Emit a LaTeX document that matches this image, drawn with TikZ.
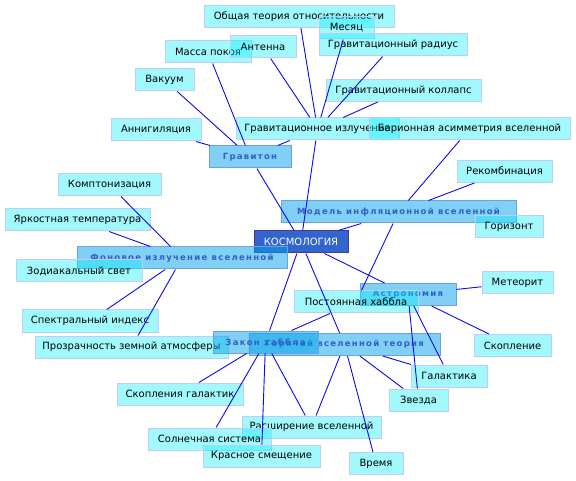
\documentclass[tikz,border=0pt]{standalone}
\usepackage{fontspec}
\setmainfont{DejaVu Sans}
\newfontfamily\hubfont{DejaVu Sans}[LetterSpace=15]
\usepackage{tikz}
\usetikzlibrary{positioning}
\definecolor{leafcyan}{RGB}{0, 238, 250}
\definecolor{leafedge}{RGB}{190, 205, 245}
\definecolor{hubfill}{RGB}{0, 161, 233}
\definecolor{hubedge}{RGB}{110, 160, 225}
\definecolor{hubtext}{RGB}{50, 96, 200}
\definecolor{rootblue}{RGB}{51, 102, 204}
\definecolor{rootedge}{RGB}{80, 50, 160}
\definecolor{linkblue}{RGB}{10, 10, 240}

\begin{document}
\begin{tikzpicture}[x=1pt, y=-1pt,
    every node/.style={font=\fontsize{10}{12}\selectfont, inner sep=0pt, minimum height=22pt},
    leaf/.style={draw=leafedge, line width=1pt, fill=leafcyan, fill opacity=0.37, text opacity=1},
    hub/.style={draw=hubedge, line width=1pt, fill=hubfill, fill opacity=0.5, text opacity=1, text=hubtext, font=\hubfont\bfseries\fontsize{8.5}{10}\selectfont},
    root/.style={draw=rootedge, line width=1pt, fill=rootblue, text=white},
    link/.style={linkblue, line width=0.9pt}]
    \useasboundingbox (0,0) rectangle (576,481);

    % Top cluster
    \node[leaf, minimum width=190pt] (ot) at (299,16.5) {Общая теория относительности};
    \node[leaf, minimum width=55pt] (mes) at (346.5,28) {Месяц};
    \node[leaf, minimum width=86pt] (mas) at (208,52) {Масса покоя};
    \node[leaf, minimum width=66pt] (ant) at (263,47) {Антенна};
    \node[leaf, minimum width=148pt] (grr) at (393,45) {Гравитационный радиус};
    \node[leaf, minimum width=59pt] (vak) at (164.5,80) {Вакуум};
    \node[leaf, minimum width=155pt] (grk) at (403.5,90.5) {Гравитационный коллапс};
    \node[leaf, minimum width=90pt] (ann) at (156,130) {Аннигиляция};
    \node[leaf, minimum width=163pt] (gri) at (317.5,129) {Гравитационное излучение};
    \node[leaf, minimum width=201pt] (bar) at (469.5,129) {Барионная асимметрия вселенной};
    \node[hub, minimum width=82pt] (grv) at (250,157) {Гравитон};

    % Inflation model
    \node[leaf, minimum width=95pt] (rek) at (504.5,171.5) {Рекомбинация};
    \node[hub, minimum width=235pt] (mod) at (398.5,212) {Модель инфляционной вселенной};
    \node[leaf, minimum width=68pt] (gor) at (509,227) {Горизонт};

    % Root and background radiation
    \node[root, minimum width=94pt] (kos) at (301,242) {КОСМОЛОГИЯ};
    \node[leaf, minimum width=103pt] (kom) at (109.5,185) {Комптонизация};
    \node[leaf, minimum width=145pt] (yar) at (77.5,220) {Яркостная температура};
    \node[hub, minimum width=210pt] (fon) at (182,258) {Фоновое излучение вселенной};
    \node[leaf, minimum width=126pt] (zod) at (79,271) {Зодиакальный свет};
    \node[leaf, minimum width=136pt] (spe) at (90,321) {Спектральный индекс};
    \node[leaf, minimum width=193pt] (pro) at (131.5,347) {Прозрачность земной атмосферы};

    % Astronomy
    \node[leaf, minimum width=71pt] (met) at (517.5,283) {Метеорит};
    \node[hub, minimum width=96pt] (ast) at (408,294.5) {Астрономия};
    \node[leaf, minimum width=124pt] (pos) at (356,302) {Постоянная хаббла};

    % Hot universe and Hubble law
    \node[hub, minimum width=191pt] (hot) at (344.5,344.5) {Горячей вселенной теория};
    \node[hub, minimum width=105pt] (zak) at (265.5,342) {Закон хаббла};
    \node[leaf, minimum width=77pt] (sko) at (512.5,345.5) {Скопление};
    \node[leaf, minimum width=76pt] (gal) at (449,376) {Галактика};
    \node[leaf, minimum width=59pt] (zve) at (418.5,400) {Звезда};
    \node[leaf, minimum width=126pt] (skg) at (180,394) {Скопления галактик};
    \node[leaf, minimum width=139pt] (ras) at (311.5,427) {Расширение вселенной};
    \node[leaf, minimum width=123pt] (sol) at (209.5,439) {Солнечная система};
    \node[leaf, minimum width=117pt] (kra) at (261.5,456) {Красное смещение};
    \node[leaf, minimum width=54pt] (vre) at (376,463.5) {Время};

    % Links: gravitational radiation
    \draw[link] (gri) -- (ot);
    \draw[link] (gri) -- (ant);
    \draw[link] (gri) -- (mes);
    \draw[link] (gri) -- (grr);
    \draw[link] (gri) -- (grk);
    \draw[link] (gri) -- (kos);
    \draw[link] (gri) -- (grv);
    % Links: graviton
    \draw[link] (grv) -- (vak);
    \draw[link] (grv) -- (mas);
    \draw[link] (grv) -- (ann);
    \draw[link] (grv) -- (kos);
    % Links: inflation model
    \draw[link] (mod) -- (bar);
    \draw[link] (mod) -- (rek);
    \draw[link] (mod) -- (kos);
    \draw[link] (mod) -- (pos);
    % Links: background radiation
    \draw[link] (fon) -- (kom);
    \draw[link] (fon) -- (yar);
    \draw[link] (fon) -- (spe);
    \draw[link] (fon) -- (pro);
    % Links: root
    \draw[link] (kos) -- (zak);
    \draw[link] (kos) -- (hot);
    \draw[link] (kos) -- (ast);
    % Links: Hubble law
    \draw[link] (zak) -- (pos);
    \draw[link] (zak) -- (skg);
    \draw[link] (zak) -- (sol);
    \draw[link] (zak) -- (kra);
    \draw[link] (zak) -- (ras);
    % Links: hot universe
    \draw[link] (hot) -- (ras);
    \draw[link] (hot) -- (vre);
    \draw[link] (hot) -- (zve);
    \draw[link] (hot) -- (gal);
    % Links: astronomy
    \draw[link] (ast) -- (zve);
    \draw[link] (ast) -- (gal);
    \draw[link] (ast) -- (met);
    \draw[link] (ast) -- (sko);
\end{tikzpicture}
\end{document}
